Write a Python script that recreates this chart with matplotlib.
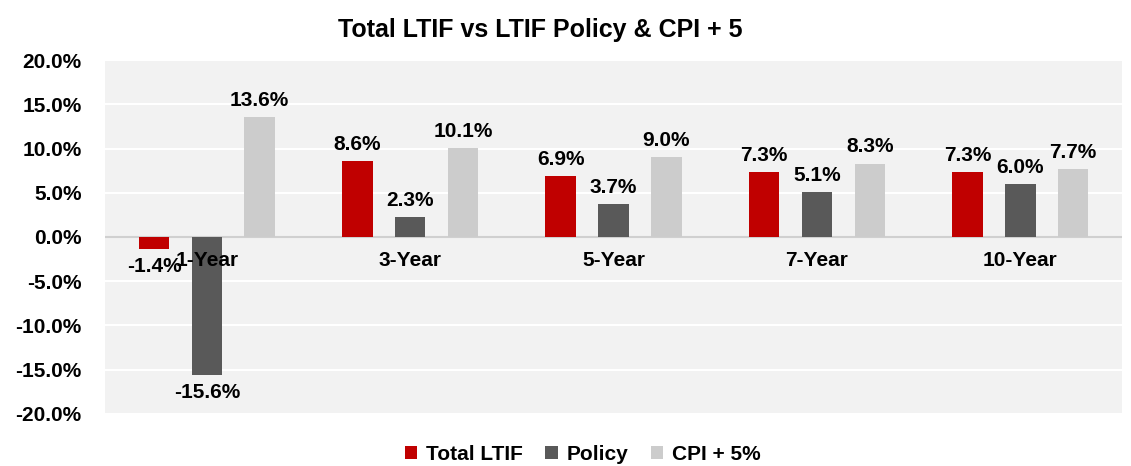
import matplotlib.pyplot as plt
import numpy as np

plt.rcParams['font.family'] = ['Liberation Sans', 'DejaVu Sans']
plt.rcParams['font.weight'] = 'bold'

# Data
periods = ['1-Year', '3-Year', '5-Year', '7-Year', '10-Year']
total_ltif = [-1.4, 8.6, 6.9, 7.3, 7.3]
policy = [-15.6, 2.3, 3.7, 5.1, 6.0]
cpi_plus5 = [13.6, 10.1, 9.0, 8.3, 7.7]

series = [('Total LTIF', total_ltif, '#C00000'),
          ('Policy', policy, '#595959'),
          ('CPI + 5%', cpi_plus5, '#CCCCCC')]

fig = plt.figure(figsize=(11.31, 4.66), dpi=100)
ax = fig.add_axes([0.093, 0.112, 0.899, 0.759])
ax.set_facecolor('#F2F2F2')

x = np.arange(len(periods))
width = 0.15
offsets = [-0.26, 0, 0.26]

for (name, vals, color), off in zip(series, offsets):
    bars = ax.bar(x + off, vals, width, color=color, label=name, zorder=3)
    for b, v in zip(bars, vals):
        if v >= 0:
            ax.text(b.get_x() + b.get_width() / 2, v + 0.8, f'{v:.1f}%',
                    ha='center', va='bottom', fontsize=15, fontweight='bold')
        else:
            ax.text(b.get_x() + b.get_width() / 2, v - 0.9, f'{v:.1f}%',
                    ha='center', va='top', fontsize=15, fontweight='bold')

# category labels sit just below the zero line
for xi, p in zip(x, periods):
    ax.text(xi, -1.6, p, ha='center', va='top', fontsize=15, fontweight='bold', zorder=4)

ax.set_ylim(-20, 20)
ax.set_xlim(-0.5, len(periods) - 0.5)
ax.set_yticks(np.arange(-20, 21, 5))
ax.set_yticklabels([f'{t:.1f}%' for t in np.arange(-20, 21, 5)], fontsize=15, fontweight='bold')
ax.set_xticks([])
ax.tick_params(axis='y', length=0, pad=17)
ax.grid(axis='y', color='white', linewidth=1.5, zorder=0)
ax.axhline(0, color='#D0D0D0', linewidth=1.5, zorder=2)
for s in ax.spines.values():
    s.set_visible(False)

fig.text(0.478, 0.935, 'Total LTIF vs LTIF Policy & CPI + 5', ha='center', va='center',
         fontsize=18, fontweight='bold')

fig.legend(loc='center', bbox_to_anchor=(0.515, 0.025), ncol=3, frameon=False,
           handlelength=0.6, handleheight=0.6, columnspacing=1.1,
           handletextpad=0.4, prop={'weight': 'bold', 'size': 15})

fig.savefig('out.png', dpi=100)
